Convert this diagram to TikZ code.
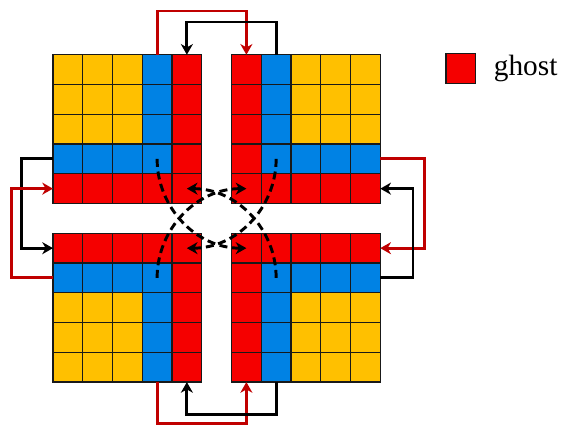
\documentclass[tikz,border=0pt]{standalone}
\usepackage{fontspec}
\setmainfont{Liberation Serif}
\usepackage{tikz}
\usetikzlibrary{positioning,arrows.meta}
\definecolor{ghostred}{RGB}{245,0,0}
\definecolor{innerblue}{RGB}{0,130,228}
\definecolor{coreyellow}{RGB}{255,192,0}
\definecolor{linkred}{RGB}{192,0,0}

\begin{document}
\begin{tikzpicture}[x=22.3125pt,y=22.3125pt,
    cell/.style={draw=black!90, line width=1pt, minimum size=22.3125pt, inner sep=0pt, outer sep=0pt},
    redlink/.style={draw=linkred, line width=2.2pt, -{Stealth[length=8pt,width=9pt,inset=2.5pt]}},
    blacklink/.style={draw=black, line width=2.2pt, -{Stealth[length=8pt,width=9pt,inset=2.5pt]}},
    diaglink/.style={draw=black, line width=2.2pt, dash pattern=on 6pt off 3.5pt, -{Stealth[length=8pt,width=9pt,inset=2.5pt]}}]
    \useasboundingbox (-1.78,-1.48) rectangle (17.14,12.84);
    \foreach \c in {0,...,10}{
        \foreach \r in {0,...,10}{
            \pgfmathtruncatemacro{\dc}{abs(\c-5)}
            \pgfmathtruncatemacro{\dr}{abs(\r-5)}
            \ifnum\dc>0 \ifnum\dr>0
                \pgfmathtruncatemacro{\dmin}{min(\dc,\dr)}
                \ifnum\dmin=1 \def\cellcol{ghostred}\else\ifnum\dmin=2 \def\cellcol{innerblue}\else\def\cellcol{coreyellow}\fi\fi
                \node[cell, fill=\cellcol] (c-\c-\r) at (\c+0.5,\r+0.5) {};
            \fi\fi
        }
    }
    \draw[diaglink] (c-3-7.center) to[out=-90,in=180] (c-6-4.center);
    \draw[diaglink] (c-3-3.center) to[out=90,in=180] (c-6-6.center);
    \draw[diaglink] (c-7-7.center) to[out=-90,in=0] (c-4-4.center);
    \draw[diaglink] (c-7-3.center) to[out=90,in=0] (c-4-6.center);
    \draw[redlink] (c-3-10.north) -- ++(0,1.47) -| (c-6-10.north);
    \draw[blacklink] (c-7-10.north) -- ++(0,1.1) -| (c-4-10.north);
    \draw[redlink] (c-3-0.south) -- ++(0,-1.38) -| (c-6-0.south);
    \draw[blacklink] (c-7-0.south) -- ++(0,-1.08) -| (c-4-0.south);
    \draw[blacklink] (c-0-7.west) -- ++(-1.05,0) |- (c-0-4.west);
    \draw[redlink] (c-0-3.west) -- ++(-1.4,0) |- (c-0-6.west);
    \draw[redlink] (c-10-7.east) -- ++(1.5,0) |- (c-10-4.east);
    \draw[blacklink] (c-10-3.east) -- ++(1.1,0) |- (c-10-6.east);
    \node[cell, fill=ghostred] (legbox) at (13.71,10.54) {};
    \node[right=10pt of legbox, font=\fontsize{22}{24}\selectfont] (legtext) {ghost};
\end{tikzpicture}
\end{document}
